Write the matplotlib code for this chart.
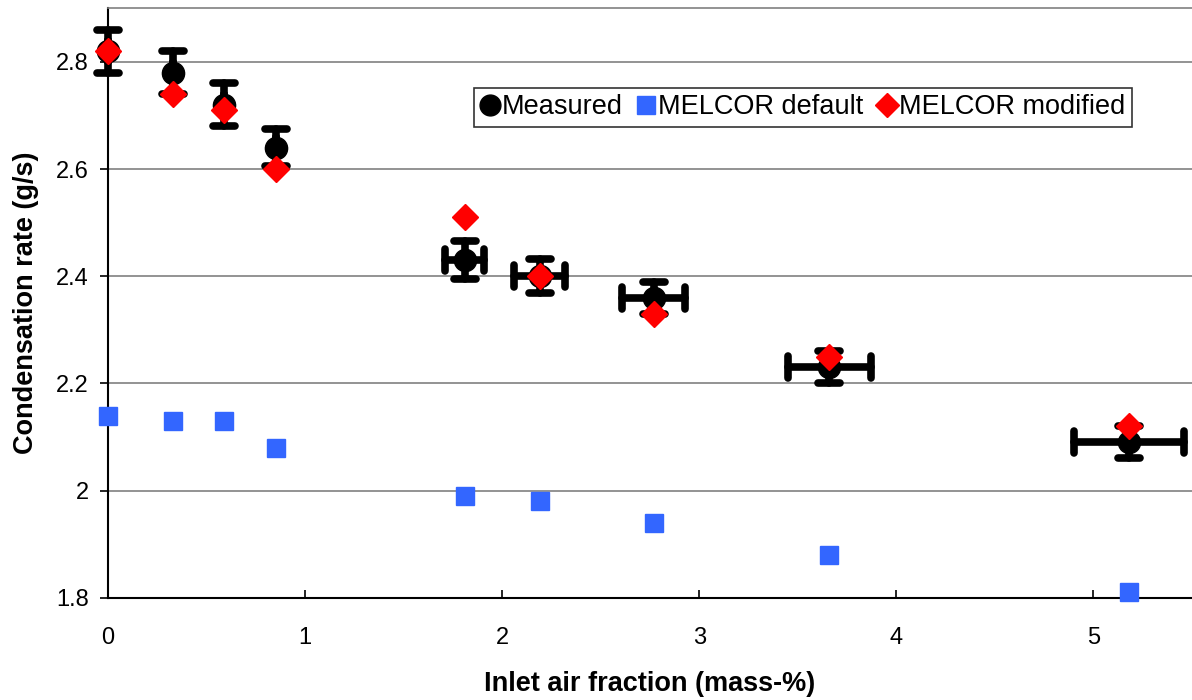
import matplotlib
matplotlib.use('Agg')
import matplotlib.pyplot as plt
from matplotlib.lines import Line2D
from matplotlib.markers import MarkerStyle
from matplotlib.ticker import FormatStrFormatter

plt.rcParams['font.family'] = ['Liberation Sans', 'DejaVu Sans']

# data
airFrac = [0, 0.33, 0.59, 0.85, 1.81, 2.19, 2.77, 3.66, 5.18]
airFracErr = [0, 0, 0, 0, 0.10, 0.13, 0.16, 0.21, 0.28]
measured = [2.82, 2.78, 2.72, 2.64, 2.43, 2.40, 2.36, 2.23, 2.09]
measuredErr = [0.04, 0.04, 0.04, 0.035, 0.035, 0.032, 0.03, 0.03, 0.03]
melcorDefault = [2.14, 2.13, 2.13, 2.08, 1.99, 1.98, 1.94, 1.88, 1.81]
melcorModified = [2.82, 2.74, 2.71, 2.60, 2.51, 2.40, 2.33, 2.25, 2.12]

yTicks = [1.8, 2.0, 2.2, 2.4, 2.6, 2.8]
xTicks = [0, 1, 2, 3, 4, 5]

blue = '#3366ff'
red = '#ff0000'

fig = plt.figure(figsize=(11.92, 7.0), dpi=100)
ax = fig.add_axes([0.0906, 0.146, 0.9094, 0.842])

eb = ax.errorbar(airFrac, measured, yerr=measuredErr, xerr=airFracErr, fmt='o',
                 color='black', ms=16, elinewidth=5.5, capsize=8, capthick=5.5, zorder=3)
eb[0].set_clip_on(False)
for cl in eb[1]:
    cl.set_marker(MarkerStyle(cl.get_marker(), capstyle='round'))
    cl.set_clip_on(False)
for lc in eb[2]:
    lc.set_capstyle('round')
    lc.set_clip_on(False)

ax.plot(airFrac, melcorDefault, 's', color=blue, ms=13, zorder=4, clip_on=False)
ax.plot(airFrac, melcorModified, 'D', color=red, ms=13.5, zorder=5, clip_on=False)

ax.set_xlim(0, 5.5)
ax.set_ylim(1.8, 2.9)
ax.set_xticks(xTicks)
ax.set_yticks(yTicks)
ax.yaxis.set_major_formatter(FormatStrFormatter('%g'))
ax.yaxis.grid(True, color='#808080', linewidth=1.2)
ax.set_axisbelow(True)

ax.tick_params(axis='x', direction='in', length=6, labelsize=17, pad=21, width=1.2)
ax.tick_params(axis='y', direction='out', length=6, labelsize=17, pad=8, width=1.2)

for s in ['left', 'bottom']:
    ax.spines[s].set_color('black')
    ax.spines[s].set_linewidth(1.5)
ax.spines['top'].set_color('#808080')
ax.spines['top'].set_linewidth(1.2)
ax.spines['right'].set_visible(False)

ax.set_xlabel('Inlet air fraction (mass-%)', fontsize=19.5, fontweight='bold', labelpad=16)
ax.set_ylabel('Condensation rate (g/s)', fontsize=19.5, fontweight='bold', labelpad=12)

handles = [
    Line2D([], [], marker='o', color='black', ls='none', ms=15),
    Line2D([], [], marker='s', color=blue, ls='none', ms=13),
    Line2D([], [], marker='D', color=red, ls='none', ms=12),
]
labels = ['Measured', 'MELCOR default', 'MELCOR modified']
leg = ax.legend(handles, labels, ncol=3, loc='center', bbox_to_anchor=(0.641, 0.832),
                fontsize=19.5, frameon=True, fancybox=False, handlelength=0.7,
                handletextpad=0.1, columnspacing=0.5, borderpad=0.25)
leg.get_frame().set_edgecolor('black')
leg.get_frame().set_linewidth(1.2)

fig.savefig('out.png', dpi=100)
